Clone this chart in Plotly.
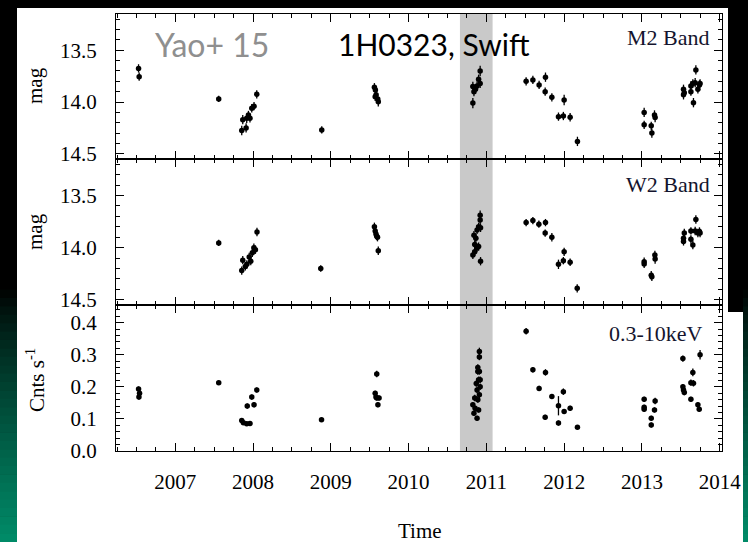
import plotly.graph_objects as go

W, H = 748, 542

# ---------------- data ----------------
# M2 band (UVOT) magnitudes
m2_t = [2006.527, 2006.535, 2007.558, 2007.854, 2007.867, 2007.910, 2007.918, 2007.940,
        2007.960, 2007.983, 2008.012, 2008.047, 2008.883, 2009.560, 2009.573, 2009.582,
        2009.570, 2009.603, 2009.610, 2010.920, 2010.900, 2010.920, 2010.826, 2010.860,
        2010.840, 2010.880, 2010.826, 2011.511, 2011.598, 2011.678, 2011.760, 2011.756,
        2011.842, 2011.927, 2011.990, 2012.000, 2012.077, 2012.171, 2013.029, 2013.029,
        2013.120, 2013.128, 2013.162, 2013.170, 2013.535, 2013.535, 2013.545, 2013.630,
        2013.630, 2013.655, 2013.663, 2013.694, 2013.685, 2013.720, 2013.740, 2013.748]
m2_mag = [13.675, 13.755, 13.970, 14.275, 14.170, 14.250, 14.157, 14.125,
          14.157, 14.060, 14.040, 13.925, 14.270, 13.857, 13.884, 13.930,
          13.950, 13.970, 13.997, 13.700, 13.780, 13.820, 13.850, 13.877,
          13.900, 13.845, 14.010, 13.800, 13.787, 13.835, 13.760, 13.900,
          13.954, 14.141, 14.135, 13.980, 14.147, 14.380, 14.100, 14.220,
          14.230, 14.300, 14.125, 14.150, 13.877, 13.930, 13.910, 13.845,
          13.900, 13.820, 14.006, 13.690, 13.813, 13.877, 13.835, 13.820]
m2_err = [0.04, 0.04, 0.03, 0.045, 0.045, 0.045, 0.045, 0.04,
          0.04, 0.04, 0.04, 0.04, 0.035, 0.04, 0.04, 0.04,
          0.04, 0.04, 0.045, 0.05, 0.045, 0.045, 0.045, 0.045,
          0.045, 0.045, 0.05, 0.04, 0.04, 0.04, 0.045, 0.04,
          0.04, 0.04, 0.04, 0.05, 0.04, 0.045, 0.045, 0.04,
          0.04, 0.045, 0.045, 0.045, 0.045, 0.045, 0.04, 0.045,
          0.04, 0.04, 0.045, 0.045, 0.045, 0.04, 0.045, 0.04]

# W2 band (UVOT) magnitudes
w2_t = [2007.558, 2007.854, 2007.867, 2007.900, 2007.920, 2007.950, 2007.970, 2007.990,
        2008.010, 2008.030, 2008.050, 2008.870, 2009.560, 2009.570, 2009.580, 2009.590,
        2009.600, 2009.610, 2010.920, 2010.920, 2010.900, 2010.925, 2010.880, 2010.840,
        2010.865, 2010.850, 2010.900, 2010.880, 2010.826, 2010.850, 2010.925, 2011.511,
        2011.598, 2011.675, 2011.760, 2011.756, 2011.842, 2011.927, 2011.990, 2012.000,
        2012.077, 2012.168, 2013.029, 2013.029, 2013.120, 2013.128, 2013.167, 2013.170,
        2013.535, 2013.535, 2013.545, 2013.630, 2013.630, 2013.655, 2013.694, 2013.685,
        2013.720, 2013.740, 2013.748]
w2_mag = [13.955, 14.220, 14.120, 14.180, 14.160, 14.090, 14.130, 14.050,
          14.000, 14.020, 13.850, 14.200, 13.800, 13.840, 13.870, 13.890,
          13.900, 14.030, 13.690, 13.735, 13.800, 13.810, 13.830, 13.880,
          13.910, 13.970, 13.990, 14.000, 14.070, 14.040, 14.130, 13.760,
          13.740, 13.775, 13.760, 13.860, 13.900, 14.160, 14.125, 14.040,
          14.140, 14.390, 14.135, 14.156, 14.265, 14.280, 14.070, 14.110,
          13.910, 13.940, 13.860, 13.840, 13.920, 13.975, 13.730, 13.840,
          13.860, 13.845, 13.860]
w2_err = [0.03, 0.04, 0.04, 0.04, 0.04, 0.04, 0.04, 0.04,
          0.04, 0.04, 0.04, 0.03, 0.04, 0.04, 0.04, 0.04,
          0.04, 0.04, 0.045, 0.04, 0.04, 0.04, 0.04, 0.04,
          0.04, 0.04, 0.04, 0.04, 0.04, 0.04, 0.04, 0.035,
          0.035, 0.035, 0.035, 0.035, 0.04, 0.045, 0.035, 0.04,
          0.035, 0.04, 0.04, 0.04, 0.04, 0.04, 0.04, 0.045,
          0.04, 0.04, 0.04, 0.035, 0.04, 0.04, 0.04, 0.04,
          0.04, 0.04, 0.04]

# XRT 0.3-10 keV count rate
xr_t = [2006.527, 2006.540, 2006.532, 2007.558, 2007.854, 2007.875, 2007.918, 2007.925,
        2007.960, 2007.983, 2008.012, 2008.047, 2008.880, 2009.590, 2009.570, 2009.590,
        2009.620, 2009.605, 2009.580, 2010.910, 2010.910, 2010.890, 2010.910, 2010.900,
        2010.920, 2010.880, 2010.910, 2010.850, 2010.890, 2010.826, 2010.855, 2010.840,
        2010.880, 2010.900, 2010.920, 2010.890, 2010.870, 2011.511, 2011.598, 2011.760,
        2011.678, 2011.842, 2011.756, 2011.927, 2011.927, 2011.990, 2012.000, 2012.077,
        2012.171, 2013.029, 2013.029, 2013.029, 2013.120, 2013.120, 2013.170, 2013.162,
        2013.527, 2013.527, 2013.535, 2013.545, 2013.655, 2013.630, 2013.663, 2013.630,
        2013.720, 2013.737, 2013.748]
xr_rate = [0.193, 0.180, 0.168, 0.213, 0.095, 0.088, 0.085, 0.140,
           0.086, 0.168, 0.144, 0.190, 0.097, 0.240, 0.180, 0.165,
           0.165, 0.144, 0.168, 0.310, 0.293, 0.248, 0.248, 0.222,
           0.200, 0.190, 0.175, 0.165, 0.160, 0.144, 0.133, 0.118,
           0.102, 0.128, 0.222, 0.260, 0.210, 0.373, 0.253, 0.245,
           0.195, 0.170, 0.105, 0.141, 0.087, 0.185, 0.123, 0.133,
           0.074, 0.161, 0.136, 0.130, 0.102, 0.081, 0.156, 0.128,
           0.288, 0.200, 0.190, 0.182, 0.245, 0.213, 0.211, 0.161,
           0.144, 0.130, 0.300]
xr_err = [0.008, 0.008, 0.008, 0.006, 0.006, 0.006, 0.006, 0.008,
          0.006, 0.008, 0.008, 0.008, 0.006, 0.01, 0.008, 0.008,
          0.008, 0.008, 0.008, 0.012, 0.01, 0.01, 0.01, 0.01,
          0.01, 0.01, 0.01, 0.01, 0.01, 0.008, 0.008, 0.008,
          0.008, 0.008, 0.01, 0.01, 0.01, 0.01, 0.008, 0.01,
          0.008, 0.008, 0.008, 0.03, 0.008, 0.01, 0.008, 0.008,
          0.006, 0.008, 0.008, 0.008, 0.008, 0.008, 0.01, 0.008,
          0.01, 0.008, 0.008, 0.008, 0.012, 0.01, 0.01, 0.008,
          0.008, 0.008, 0.015]

# flaring epoch highlighted in all panels
flare_span = [2010.66, 2011.08]

year_ticks = [2007, 2008, 2009, 2010, 2011, 2012, 2013, 2014]
mag_ticks = [13.5, 14.0, 14.5]
rate_ticks = [0.0, 0.1, 0.2, 0.3, 0.4]

# ---------------- layout helpers ----------------
def px_x(p):
    return p / W

def px_y(p):
    return 1 - p / H

x_dom = [px_x(116), px_x(722)]
panels = [(14, 159), (159, 305), (305, 451)]
y_doms = [[px_y(b), px_y(t)] for t, b in panels]

SERIF = "Liberation Serif, Times New Roman, serif"
SANS = "Lato, Liberation Sans, sans-serif"

fig = go.Figure()

series = [(m2_t, m2_mag, m2_err), (w2_t, w2_mag, w2_err), (xr_t, xr_rate, xr_err)]
for i, (t, v, e) in enumerate(series):
    sfx = "" if i == 0 else str(i + 1)
    fig.add_trace(go.Scatter(
        x=t, y=v, mode="markers",
        marker=dict(color="black", size=5.5),
        error_y=dict(type="data", array=e, visible=True, color="black",
                     thickness=1.3, width=0),
        xaxis="x" + sfx, yaxis="y" + sfx, showlegend=False, hoverinfo="x+y"))

xcommon = dict(range=[2006.237, 2014.03], domain=x_dom, showline=True, linecolor="black",
               linewidth=1, mirror="ticks", ticks="inside", ticklen=8, tickwidth=1,
               tickcolor="black", tickvals=year_ticks, showgrid=False, zeroline=False,
               automargin=False,
               minor=dict(ticks="inside", ticklen=4, dtick=0.25, tick0=2007,
                          tickcolor="black", showgrid=False),
               tickfont=dict(family=SERIF, size=21, color="black"))

ycommon = dict(showline=True, linecolor="black", linewidth=1, mirror="ticks",
               ticks="inside", ticklen=8, tickwidth=1, tickcolor="black",
               showgrid=False, zeroline=False, tickformat=".1f",
               ticklabelstandoff=14, automargin=False,
               tickfont=dict(family=SERIF, size=21, color="black"))

layout = dict(
    width=W, height=H, autosize=False,
    margin=dict(l=0, r=0, t=0, b=0, pad=0, autoexpand=False),
    paper_bgcolor="black", plot_bgcolor="rgba(0,0,0,0)",
    xaxis=dict(xcommon, anchor="y", showticklabels=False),
    xaxis2=dict(xcommon, anchor="y2", matches="x", showticklabels=False),
    xaxis3=dict(xcommon, anchor="y3", matches="x", showticklabels=True,
                ticklabelstandoff=12),
    yaxis=dict(ycommon, domain=y_doms[0], anchor="x", range=[14.55, 13.15],
               tickvals=mag_ticks,
               minor=dict(ticks="inside", ticklen=4, dtick=0.1, tick0=13.5,
                          tickcolor="black", showgrid=False)),
    yaxis2=dict(ycommon, domain=y_doms[1], anchor="x2", range=[14.55, 13.15],
                tickvals=mag_ticks,
                minor=dict(ticks="inside", ticklen=4, dtick=0.1, tick0=13.5,
                           tickcolor="black", showgrid=False)),
    yaxis3=dict(ycommon, domain=y_doms[2], anchor="x3", range=[0, 0.455],
                tickvals=rate_ticks,
                minor=dict(ticks="inside", ticklen=4, dtick=0.02, tick0=0,
                           tickcolor="black", showgrid=False)),
)
fig.update_layout(**layout)

shapes = []
# white figure sheet on the dark slide
shapes.append(dict(type="rect", xref="paper", yref="paper", x0=px_x(17), x1=px_x(743),
                   y0=0, y1=px_y(312), fillcolor="white", line=dict(width=0), layer="below"))
shapes.append(dict(type="rect", xref="paper", yref="paper", x0=px_x(17), x1=px_x(728),
                   y0=px_y(314), y1=px_y(8), fillcolor="white", line=dict(width=0),
                   layer="below"))

# green slide gradient on both edges
n = 30
g0, g1 = 290, H
for k in range(n):
    ya = g0 + (g1 - g0) * k / n
    yb = g0 + (g1 - g0) * (k + 1) / n
    f = (k + 0.5) / n
    col = "rgb(0,%d,%d)" % (int(140 * f ** 0.8), int(105 * f ** 0.8))
    for xa, xb in [(0, 17), (743, W)]:
        shapes.append(dict(type="rect", xref="paper", yref="paper", x0=px_x(xa), x1=px_x(xb),
                           y0=px_y(yb), y1=px_y(ya) + 0.001, fillcolor=col,
                           line=dict(width=0), layer="below"))

# highlighted epoch
shapes.append(dict(type="rect", xref="x", yref="paper", x0=flare_span[0], x1=flare_span[1],
                   y0=y_doms[2][0], y1=y_doms[0][1], fillcolor="#c9c9c9",
                   line=dict(width=0), layer="below"))
fig.update_layout(shapes=shapes)

ann = [
    dict(text="Yao+ 15", x=px_x(153), y=px_y(44), xanchor="left", yanchor="middle",
         font=dict(family=SANS, size=32, color="#8f8f8f")),
    dict(text="1H0323, Swift", x=px_x(336), y=px_y(44), xanchor="left", yanchor="middle",
         font=dict(family=SANS, size=30, color="black")),
    dict(text="M2 Band", x=px_x(712), y=px_y(38), xanchor="right", yanchor="middle",
         font=dict(family=SERIF, size=22, color="#14142e")),
    dict(text="W2 Band", x=px_x(712), y=px_y(185), xanchor="right", yanchor="middle",
         font=dict(family=SERIF, size=22, color="#14142e")),
    dict(text="0.3-10keV", x=px_x(705), y=px_y(333), xanchor="right", yanchor="middle",
         font=dict(family=SERIF, size=22, color="#14142e")),
    dict(text="mag", x=px_x(35), y=px_y(86), xanchor="center", yanchor="middle",
         textangle=-90, font=dict(family=SERIF, size=21, color="black")),
    dict(text="mag", x=px_x(35), y=px_y(232), xanchor="center", yanchor="middle",
         textangle=-90, font=dict(family=SERIF, size=21, color="black")),
    dict(text="Cnts s<sup>-1</sup>", x=px_x(35), y=px_y(380), xanchor="center",
         yanchor="middle", textangle=-90, font=dict(family=SERIF, size=21, color="black")),
    dict(text="Time", x=px_x(420), y=px_y(531), xanchor="center", yanchor="middle",
         font=dict(family=SERIF, size=21, color="black")),
]
for a in ann:
    a.update(xref="paper", yref="paper", showarrow=False)
fig.update_layout(annotations=ann)

fig.write_html("out.html", config={"responsive": False})
